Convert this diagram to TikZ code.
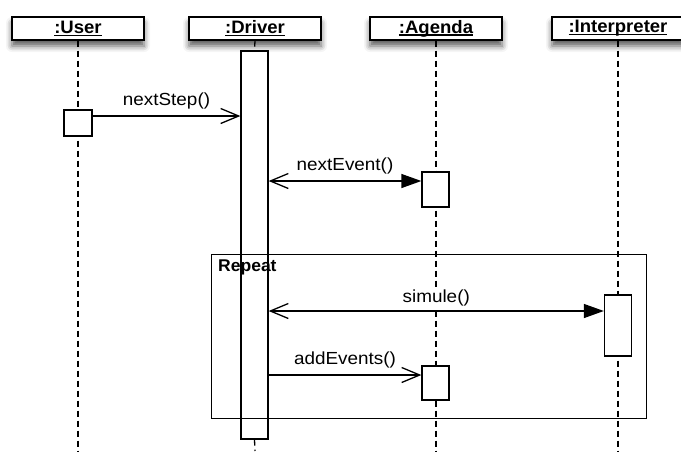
\documentclass[tikz,border=0pt]{standalone}
\usepackage{fontspec}
\setmainfont{Liberation Sans}
\newfontfamily\lblfont{Liberation Sans}[FakeStretch=1.08]
\newfontfamily\hdrfont{Liberation Sans}[FakeStretch=1.03]
\usetikzlibrary{arrows.meta,shadows.blur}
\newcommand\hdul[1]{\setbox0\hbox{#1}\rlap{\rule[-2.6pt]{\wd0}{1.3pt}}\box0}
\begin{document}
\begin{tikzpicture}[x=1pt,y=-1pt,
  hdr/.style={draw,line width=1.3pt,fill=white,minimum width=132pt,minimum height=23pt,inner sep=0pt,
    font=\hdrfont\fontsize{18}{20}\selectfont\bfseries,
    blur shadow={shadow xshift=0pt,shadow yshift=-6pt,shadow blur radius=6pt,shadow opacity=65}},
  act/.style={draw,line width=1.3pt,fill=white,minimum width=27pt,inner sep=0pt},
  life/.style={line width=1.3pt,dash pattern=on 6pt off 4pt},
  msg/.style={line width=1.3pt},
  lbl/.style={font=\lblfont\fontsize{17.5}{20}\selectfont,inner sep=1pt},
  barb/.tip={Straight Barb[length=18pt,width=15pt,line width=1.3pt]},
  filltip/.tip={Triangle[length=20pt,width=14pt]}
]
\useasboundingbox (0,0) rectangle (681,451);
\clip (0,0) rectangle (681,451);

% headers
\node[hdr] (user)   at (78,28.5)  {\hdul{:User}};
\node[hdr] (driver) at (255,28.5) {\hdul{:Driver}};
\node[hdr] (agenda) at (436,28.5) {\hdul{:Agenda}};
\node[hdr] (interp) at (618,28.5) {\hdul{:Interpreter}};

% lifeline ends
\coordinate (userend)   at (78,451);
\coordinate (driverend) at (255,451);
\coordinate (agendaend) at (436,451);
\coordinate (interpend) at (618,451);

\coordinate (dbarc) at (254.5,245);

% lifelines
\draw[life] (user.south) -- (userend);
\draw[life] (agenda.south) -- (agendaend);
\draw[life] (interp.south) -- (interpend);

% repeat frame
\node[draw,line width=1.3pt,minimum width=435pt,minimum height=164pt,inner sep=0pt,anchor=north west] (frame) at (211,254) {};
\node[anchor=north west,inner sep=0pt,font=\hdrfont\fontsize{17}{19}\selectfont\bfseries] (rep) at ([xshift=7pt,yshift=-6pt]frame.north west) {Repeat};

% driver bar (unfilled)
\node[draw,line width=1.3pt,minimum width=27pt,minimum height=388pt,inner sep=0pt] (dbar) at (dbarc) {};
\draw[life] (driver.south) -- (dbar.north);
\draw[life] (dbar.south) -- (driverend);

% other activation boxes
\node[act,minimum width=28pt,minimum height=26pt] (ubox) at (78,123) {};
\node[act,minimum height=35pt] (ag1) at (435.5,189.5) {};
\node[act,minimum height=34pt] (ag2) at (435.5,383) {};
\node[act,minimum height=61pt] (ib)  at (618,325.5) {};

% message levels
\coordinate (y1) at (0,116);
\coordinate (y2) at (0,181);
\coordinate (y3) at (0,311);
\coordinate (y4) at (0,375);

\draw[msg,-barb] (ubox.east |- y1) -- node[lbl,above=5pt] (l1) {nextStep()} (dbar.west |- y1);
\draw[msg,barb-filltip] (dbar.east |- y2) -- node[lbl,above=5pt] (l2) {nextEvent()} (ag1.west |- y2);
\draw[msg,barb-filltip] (dbar.east |- y3) -- node[lbl,above=3pt,fill=white] (l3) {simule()} (ib.west |- y3);
\draw[msg,-barb] (dbar.east |- y4) -- node[lbl,above=5pt] (l4) {addEvents()} (ag2.west |- y4);
\end{tikzpicture}
\end{document}
